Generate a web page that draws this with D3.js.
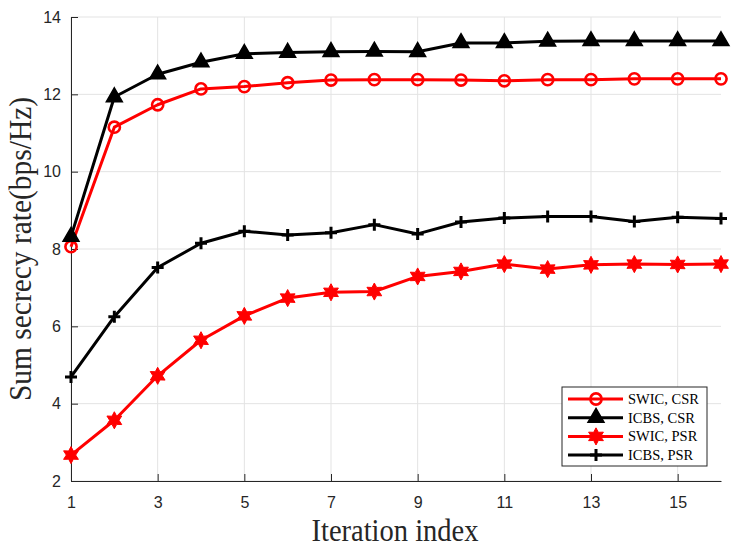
<!DOCTYPE html>
<html>
<head>
<meta charset="utf-8">
<script src="https://cdn.jsdelivr.net/npm/d3@7"></script>
<style>
  body { margin: 0; background: #fff; }
  svg { display: block; }
</style>
</head>
<body>
<div id="container"></div>
<script>
/* DATA */
const iterations = d3.range(1, 17);
const swicCsr = [8.06, 11.15, 11.73, 12.14, 12.20, 12.30, 12.37, 12.38, 12.38, 12.37, 12.35, 12.38, 12.38, 12.40, 12.40, 12.40];
const icbsCsr = [8.32, 11.93, 12.52, 12.83, 13.05, 13.08, 13.10, 13.11, 13.10, 13.33, 13.33, 13.37, 13.38, 13.38, 13.38, 13.38];
const swicPsr = [2.67, 3.57, 4.72, 5.64, 6.27, 6.73, 6.88, 6.90, 7.29, 7.42, 7.61, 7.48, 7.59, 7.61, 7.60, 7.61];
const icbsPsr = [4.69, 6.25, 7.52, 8.15, 8.46, 8.36, 8.42, 8.63, 8.39, 8.70, 8.80, 8.84, 8.84, 8.71, 8.82, 8.79];
const xTicks = [1, 3, 5, 7, 9, 11, 13, 15];
const yTicks = [2, 4, 6, 8, 10, 12, 14];

const series = [
  { name: "SWIC, CSR", values: swicCsr, color: "#ff0000", marker: "circle" },
  { name: "ICBS, CSR", values: icbsCsr, color: "#000000", marker: "triangle" },
  { name: "SWIC, PSR", values: swicPsr, color: "#ff0000", marker: "star" },
  { name: "ICBS, PSR", values: icbsPsr, color: "#000000", marker: "plus" }
];

/* CONSTANTS */
const width = 740;
const height = 550;
const plot = { left: 71, right: 721, top: 17, bottom: 481 };

const svg = d3.select("#container")
  .append("svg")
  .attr("width", width)
  .attr("height", height)
  .style("background-color", "#ffffff");

/* SCALES */
const xScale = d3.scaleLinear().domain([1, 16]).range([plot.left, plot.right]);
const yScale = d3.scaleLinear().domain([2, 14]).range([plot.bottom, plot.top]);

/* GRID */
svg.append("g")
  .selectAll("line")
  .data(xTicks)
  .join("line")
  .attr("x1", d => xScale(d)).attr("x2", d => xScale(d))
  .attr("y1", plot.top).attr("y2", plot.bottom)
  .attr("stroke", "#e3e3e3").attr("stroke-width", 1);

svg.append("g")
  .selectAll("line")
  .data(yTicks)
  .join("line")
  .attr("x1", plot.left).attr("x2", plot.right)
  .attr("y1", d => yScale(d)).attr("y2", d => yScale(d))
  .attr("stroke", "#e3e3e3").attr("stroke-width", 1);

/* AXES (ticks inside, like matlab) */
const xAxis = svg.append("g")
  .attr("transform", `translate(0,${plot.bottom})`)
  .call(d3.axisBottom(xScale).tickValues(xTicks).tickSizeInner(-7).tickSizeOuter(0).tickPadding(16));
const yAxis = svg.append("g")
  .attr("transform", `translate(${plot.left},0)`)
  .call(d3.axisLeft(yScale).tickValues(yTicks).tickSizeInner(-7).tickSizeOuter(0).tickPadding(10));

[xAxis, yAxis].forEach(ax => {
  ax.select(".domain").attr("stroke", "#262626").attr("stroke-width", 1);
  ax.selectAll(".tick line").attr("stroke", "#262626");
  ax.selectAll(".tick text")
    .attr("fill", "#262626")
    .style("font-family", "'Liberation Sans', Arial, sans-serif")
    .style("font-size", "16px");
});

/* AXIS LABELS */
svg.append("text")
  .attr("transform", "translate(395,541) scale(0.92,1)")
  .attr("text-anchor", "middle")
  .style("font-family", "'Liberation Serif', 'Times New Roman', serif")
  .style("font-size", "31px")
  .attr("fill", "#262626")
  .text("Iteration index");

svg.append("text")
  .attr("transform", "translate(31,249) rotate(-90) scale(0.95,1)")
  .attr("text-anchor", "middle")
  .style("font-family", "'Liberation Serif', 'Times New Roman', serif")
  .style("font-size", "31px")
  .attr("fill", "#262626")
  .text("Sum secrecy rate(bps/Hz)");

/* MARKERS */
const hexagram = {
  draw(context, size) {
    const r = Math.sqrt(size) * 0.62;
    const ri = r * 0.55;
    for (let i = 0; i < 12; i++) {
      const a = -Math.PI / 2 + i * Math.PI / 6;
      const rr = i % 2 === 0 ? r : ri;
      const px = rr * Math.cos(a), py = rr * Math.sin(a);
      if (i === 0) context.moveTo(px, py); else context.lineTo(px, py);
    }
    context.closePath();
  }
};

function drawMarker(g, type, color) {
  if (type === "circle") {
    g.append("circle").attr("r", 5.6)
      .attr("fill", "none").attr("stroke", color).attr("stroke-width", 2.6);
  } else if (type === "triangle") {
    g.append("path").attr("d", d3.symbol().type(d3.symbolTriangle).size(110)())
      .attr("fill", color).attr("stroke", color).attr("stroke-width", 1.5);
  } else if (type === "star") {
    g.append("path").attr("d", d3.symbol().type(hexagram).size(190)())
      .attr("fill", color).attr("stroke", color).attr("stroke-width", 1);
  } else if (type === "plus") {
    g.append("path").attr("d", "M-6,0H6M0,-6V6")
      .attr("fill", "none").attr("stroke", color).attr("stroke-width", 3);
  }
}

/* LINES */
const line = d3.line()
  .x((d, i) => xScale(iterations[i]))
  .y(d => yScale(d));

series.forEach(s => {
  svg.append("path")
    .datum(s.values)
    .attr("d", line)
    .attr("fill", "none")
    .attr("stroke", s.color)
    .attr("stroke-width", 3)
    .attr("stroke-linejoin", "round");

  svg.append("g")
    .selectAll("g")
    .data(s.values)
    .join("g")
    .attr("transform", (d, i) => `translate(${xScale(iterations[i])},${yScale(d)})`)
    .each(function() { drawMarker(d3.select(this), s.marker, s.color); });
});

/* LEGEND */
const legend = svg.append("g").attr("transform", "translate(562,387)");
legend.append("rect")
  .attr("width", 145).attr("height", 79)
  .attr("fill", "#ffffff").attr("stroke", "#262626").attr("stroke-width", 1);

series.forEach((s, i) => {
  const y = 12 + i * 18.7;
  const item = legend.append("g").attr("transform", `translate(0,${y})`);
  item.append("line")
    .attr("x1", 6).attr("x2", 61)
    .attr("stroke", s.color).attr("stroke-width", 3);
  const m = item.append("g").attr("transform", "translate(34,0)");
  drawMarker(m, s.marker, s.color);
  item.append("text")
    .attr("x", 66).attr("y", 0).attr("dy", "0.35em")
    .style("font-family", "'Liberation Serif', 'Times New Roman', serif")
    .style("font-size", "14.5px")
    .attr("fill", "#000")
    .text(s.name);
});
</script>
</body>
</html>
